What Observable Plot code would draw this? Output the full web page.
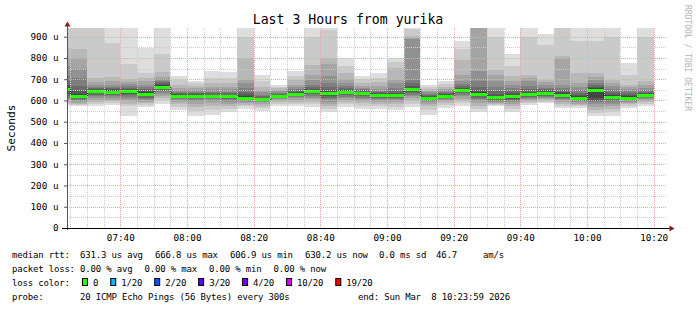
<!DOCTYPE html>
<html><head><meta charset="utf-8">
<script src="https://cdn.jsdelivr.net/npm/d3@7"></script>
<script src="https://cdn.jsdelivr.net/npm/@observablehq/plot@0.6"></script>
<style>
body{margin:0;background:#fff;}
svg{display:block;}
svg text{white-space:pre;}
</style>
</head><body><div id="chart"></div>
<script>
// ---------- data ----------
const day = "2026-03-08";
const xStart = "07:24", xEnd = "10:24";
const stepStarts = ["07:20","07:25","07:30","07:35","07:40","07:45","07:50","07:55","08:00","08:05","08:10","08:15",
  "08:20","08:25","08:30","08:35","08:40","08:45","08:50","08:55","09:00","09:05","09:10","09:15",
  "09:20","09:25","09:30","09:35","09:40","09:45","09:50","09:55","10:00","10:05","10:10","10:15"];
// 20 sorted ping round-trip times (microseconds) per 5-minute step
const pings = [
  [575,582,590,598,606,614,622,630,640,650,660,668,675,690,720,760,800,845,950,965],
  [575,580,585,590,596,603,608,612,616,619,625,632,645,669,708,747,802,843,950,965],
  [575,585,594,603,612,620,627,633,638,642,646,648,652,658,665,675,685,708,950,960],
  [578,588,596,604,612,619,625,630,634,638,643,647,652,658,665,675,690,710,870,945],
  [528,575,585,598,608,617,625,631,636,640,645,648,652,658,666,676,688,700,771,950],
  [569,578,586,594,601,608,614,619,623,627,633,638,644,652,662,674,690,705,729,847],
  [585,600,612,622,632,640,647,653,658,661,667,672,678,685,692,700,712,732,820,950],
  [554,570,582,592,600,606,611,615,618,620,622,625,629,634,640,648,660,675,695,716],
  [525,550,570,585,596,604,610,614,617,620,624,627,631,636,642,650,660,670,680,690],
  [533,555,572,586,597,605,611,615,618,619,621,624,628,634,642,652,665,683,705,737],
  [548,560,572,582,592,600,606,611,615,617,621,624,628,634,642,652,665,682,705,735],
  [562,572,580,588,595,600,605,608,611,612,616,622,630,642,660,680,697,800,900,950],
  [550,565,576,585,592,597,600,603,605,605,607,610,614,620,628,638,650,665,690,721],
  [576,585,593,600,606,611,614,617,619,620,623,625,628,632,637,643,650,658,665,674],
  [573,583,593,602,610,616,621,625,628,629,632,635,639,645,652,662,675,695,715,737],
  [569,582,594,605,614,622,629,635,640,642,646,650,656,664,675,697,720,768,900,950],
  [546,560,572,584,595,605,614,621,627,631,636,642,650,662,680,715,770,800,930,960],
  [570,582,593,602,610,618,625,630,634,637,641,645,650,657,666,680,700,728,760,800],
  [560,575,588,598,607,614,620,625,629,631,635,638,642,647,653,660,670,683,700,716],
  [558,572,584,594,602,609,614,618,621,622,626,629,633,638,645,655,668,685,705,727],
  [557,570,582,592,601,608,614,618,621,622,626,630,636,645,660,680,697,752,780,800],
  [569,585,598,610,620,628,635,641,646,650,655,660,667,680,697,890,895,905,935,960],
  [534,555,572,584,593,599,603,606,608,609,613,616,620,625,631,638,645,653,662,674],
  [565,577,588,597,604,609,613,616,618,619,623,626,630,635,641,648,656,665,677,690],
  [573,586,598,609,619,627,634,639,643,647,652,656,661,668,676,690,720,792,840,880],
  [548,562,575,587,598,607,614,620,625,628,633,640,650,665,690,737,950,960,970,985],
  [572,577,582,587,592,598,603,607,611,613,617,622,630,645,665,690,720,745,900,960],
  [546,560,572,582,591,598,604,609,614,617,623,628,635,645,658,672,690,713,760,820],
  [580,588,595,601,607,612,617,621,624,627,631,636,642,652,666,690,706,721,900,960],
  [588,594,600,606,612,618,623,627,631,634,638,642,647,653,660,672,685,697,860,915],
  [565,575,584,592,600,606,612,617,621,623,628,633,640,650,660,674,800,810,950,970],
  [565,572,579,585,591,597,602,606,610,612,616,620,626,635,648,665,680,729,880,960],
  [525,540,555,570,582,592,598,600,610,648,654,658,664,672,682,695,710,729,880,960],
  [525,545,560,572,582,592,600,607,612,615,620,625,632,642,655,668,680,697,900,960],
  [566,574,582,589,595,600,604,608,611,612,616,620,626,634,643,652,662,674,720,775],
  [576,584,592,599,605,610,615,619,622,625,629,632,636,642,650,660,675,690,900,960]
];
const yTickValues = [0,100,200,300,400,500,600,700,800,900];
const yTickLabels = ["0","100 u","200 u","300 u","400 u","500 u","600 u","700 u","800 u","900 u"];
const xTickLabels = ["07:40","08:00","08:20","08:40","09:00","09:20","09:40","10:00","10:20"];
const yMax = 941;

const titleText = "Last 3 Hours from yurika";
const yLabel = "Seconds";
const watermark = "RRDTOOL / TOBI OETIKER";
const medianStats = ["631.3 us avg","666.8 us max","606.9 us min","630.2 us now","0.0 ms sd","46.7","am/s"];
const lossStats = ["0.00 % avg","0.00 % max","0.00 % min","0.00 % now"];
const lossLabels = ["0","1/20","2/20","3/20","4/20","10/20","19/20"];
const lossColors = ["#26ff00","#00b8ff","#0059ff","#5e00ff","#7e00ff","#dd00ff","#ff0000"];
const probeText = "20 ICMP Echo Pings (56 Bytes) every 300s";
const endText = "end: Sun Mar  8 10:23:59 2026";

// ---------- style / layout ----------
const W = 697, H = 310, ML = 67, MR = 30, MT = 28, MB = 82;
const mono = "'DejaVu Sans Mono', monospace";
const smokeColors = ["#dddddd","#cacaca","#b7b7b7","#a4a4a4","#919191","#7e7e7e","#6b6b6b","#585858","#454545","#323232"];
const at = hm => new Date(`${day}T${hm}:00`);

const steps = stepStarts.map((s, i) => {
  const t0 = at(s), t1 = new Date(+t0 + 5 * 60000), p = pings[i];
  return {t0, t1, p, median: (p[9] + p[10]) / 2};
});
const layers = steps.flatMap(d => smokeColors.map((c, k) => ({t0: d.t0, t1: d.t1, lo: d.p[k], hi: d.p[19 - k], color: c})));
const medianLine = steps.map(d => ({t: d.t0, m: d.median})).concat([{t: steps[steps.length - 1].t1, m: steps[steps.length - 1].median}]);

const majorTimes = xTickLabels.map(at);
const minorTimes = d3.timeMinute.every(5).range(at(xStart), at(xEnd)).filter(t => !majorTimes.some(m => +m === +t));
const majorY = yTickValues.filter(v => v > 0);
const minorY = d3.range(50, yMax, 100);

const minorGrid = "#cbcbcb", majorGrid = "#f5a3a3";

const chart = Plot.plot({
  width: W, height: H,
  marginLeft: ML, marginRight: MR, marginTop: MT, marginBottom: MB,
  style: {fontFamily: mono, fontSize: "9.3px", background: "#fff", color: "#000"},
  x: {type: "time", domain: [at(xStart), at(xEnd)]},
  y: {domain: [0, yMax]},
  color: {type: "identity"},
  marks: [
    Plot.rect(layers, {x1: "t0", x2: "t1", y1: "lo", y2: "hi", fill: "color", clip: true, shapeRendering: "crispEdges"}),
    Plot.line(medianLine, {x: "t", y: "m", curve: "step-after", stroke: "#202020", strokeWidth: 1, clip: true}),
    Plot.ruleY(steps, {y: "median", x1: "t0", x2: "t1", stroke: "#26ff00", strokeWidth: 3, clip: true, shapeRendering: "crispEdges"}),
    Plot.ruleY(minorY, {stroke: minorGrid, strokeDasharray: "1,1", shapeRendering: "crispEdges"}),
    Plot.ruleX(minorTimes, {stroke: minorGrid, strokeDasharray: "1,1", shapeRendering: "crispEdges"}),
    Plot.ruleY(majorY, {stroke: majorGrid, strokeDasharray: "1,1", shapeRendering: "crispEdges"}),
    Plot.ruleX(majorTimes, {stroke: majorGrid, strokeDasharray: "1,1", shapeRendering: "crispEdges"}),
    Plot.axisY({ticks: yTickValues, tickSize: 3, tickPadding: 6, tickFormat: d => yTickLabels[yTickValues.indexOf(d)], label: null, stroke: "#555"}),
    Plot.axisX({ticks: majorTimes, tickSize: 0, tickPadding: 6, tickFormat: d => xTickLabels[majorTimes.findIndex(m => +m === +d)], label: null})
  ]
});
document.getElementById("chart").appendChild(chart);

// ---------- decorations ----------
const svg = d3.select(chart);
const sx = chart.scale("x"), sy = chart.scale("y");
const x0 = sx.apply(at(xStart)), x1 = sx.apply(at(xEnd)), y0 = sy.apply(0), yTop = sy.apply(yMax);
const arrowColor = "#8e1c1c";
svg.append("line").attr("x1", x0 + 0.5).attr("x2", x0 + 0.5).attr("y1", y0 + 2).attr("y2", yTop - 2).attr("stroke", "#555").attr("shape-rendering", "crispEdges");
svg.append("line").attr("x1", x0 - 5).attr("x2", x1 + 4).attr("y1", y0 + 0.5).attr("y2", y0 + 0.5).attr("stroke", "#000").attr("shape-rendering", "crispEdges");
svg.append("path").attr("d", `M${x0 + 0.5},${yTop - 6.5}L${x0 + 3.5},${yTop - 1.5}L${x0 - 2.5},${yTop - 1.5}Z`).attr("fill", arrowColor);
svg.append("path").attr("d", `M${x1 + 7.5},${y0 + 0.5}L${x1 + 2.5},${y0 - 2.5}L${x1 + 2.5},${y0 + 3.5}Z`).attr("fill", arrowColor);

// title
svg.append("text").attr("x", 348).attr("y", 24).attr("text-anchor", "middle")
  .attr("font-family", mono).attr("font-size", "13.2px").attr("fill", "#000").text(titleText);
// y label
svg.append("text").attr("transform", `translate(15,${(y0 + yTop) / 2}) rotate(-90)`).attr("text-anchor", "middle")
  .attr("font-family", mono).attr("font-size", "11.2px").attr("fill", "#000").text(yLabel);
// watermark
svg.append("text").attr("transform", "translate(684.5,5) rotate(90)").attr("text-anchor", "start").attr("font-family", mono)
  .attr("font-size", "8px").attr("fill", "#b4b4b4").text(watermark);

// legend
const lg = svg.append("g").attr("font-family", mono).attr("font-size", "9px").attr("letter-spacing", "-0.18px")
  .attr("fill", "#000").attr("text-anchor", "start");
const rowY = [258, 272, 286, 300];
const colX = 80;
lg.append("text").attr("x", 12).attr("y", rowY[0]).text("median rtt:");
const medX = [80, 155, 230, 305, 379, 436, 483];
medianStats.forEach((s, i) => lg.append("text").attr("x", medX[i]).attr("y", rowY[0]).text(s));
lg.append("text").attr("x", 12).attr("y", rowY[1]).text("packet loss:");
lossStats.forEach((s, i) => lg.append("text").attr("x", colX + i * 64.5).attr("y", rowY[1]).text(s));
lg.append("text").attr("x", 12).attr("y", rowY[2]).text("loss color:");
let bx = 82;
lossLabels.forEach((s, i) => {
  lg.append("rect").attr("x", bx + 0.5).attr("y", rowY[2] - 7.5).attr("width", 5).attr("height", 7)
    .attr("fill", lossColors[i]).attr("stroke", "#000").attr("stroke-width", 1);
  lg.append("text").attr("x", bx + 11).attr("y", rowY[2]).text(s);
  bx += 11 + s.length * 5.24 + 12;
});
lg.append("text").attr("x", 12).attr("y", rowY[3]).text("probe:");
lg.append("text").attr("x", colX).attr("y", rowY[3]).text(probeText);
lg.append("text").attr("x", 358).attr("y", rowY[3]).text(endText);
</script>
</body></html>
